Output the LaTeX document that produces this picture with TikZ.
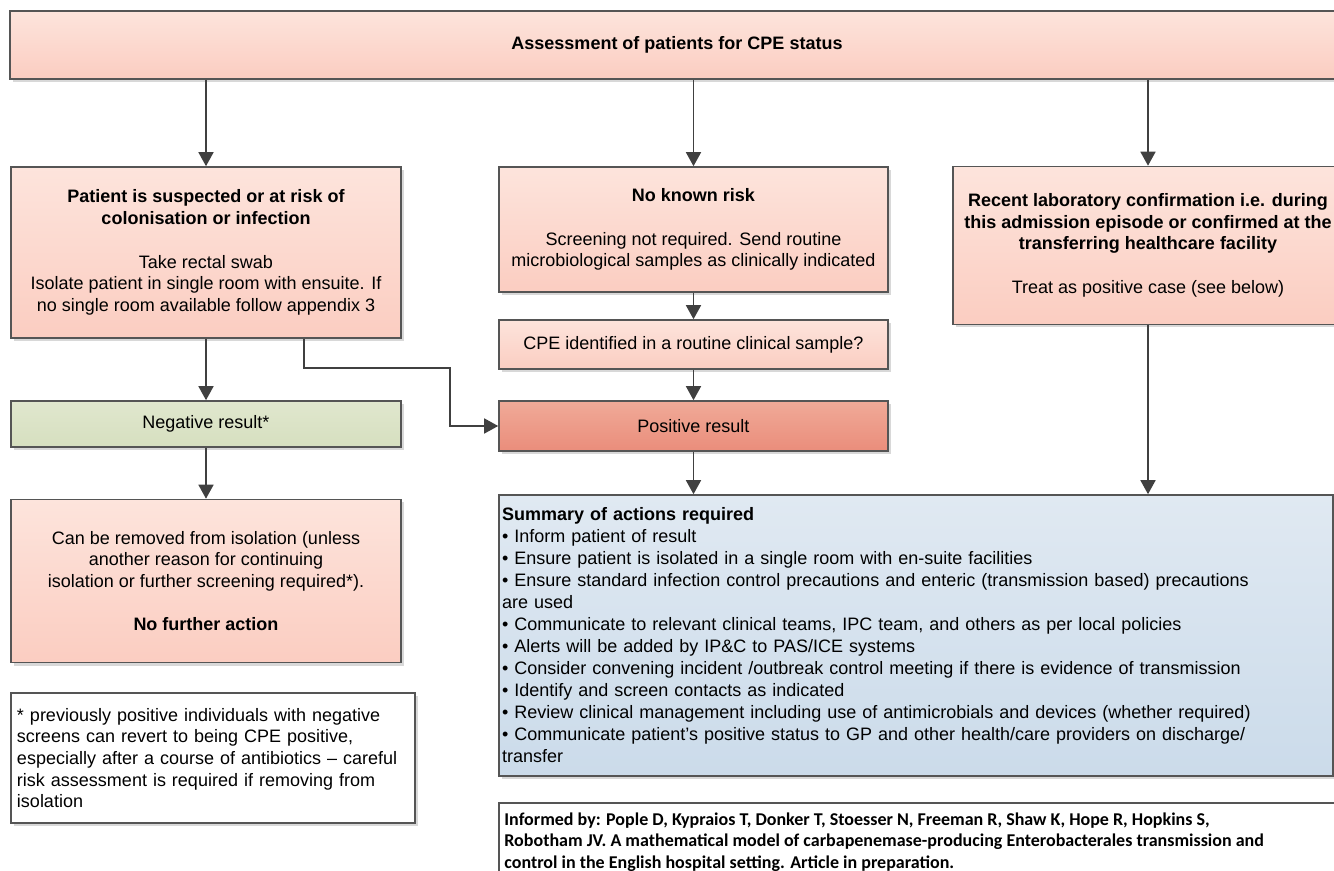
\documentclass[tikz,border=0pt]{standalone}
\usepackage{fontspec}
\setmainfont{Liberation Sans}
\newfontfamily\infofont{Carlito}
\usetikzlibrary{arrows.meta,shadows}
\definecolor{pinktop}{RGB}{253,228,220}
\definecolor{pinkbot}{RGB}{251,205,193}
\definecolor{greentop}{RGB}{224,231,206}
\definecolor{greenbot}{RGB}{214,223,191}
\definecolor{redtop}{RGB}{240,170,152}
\definecolor{redbot}{RGB}{234,141,123}
\definecolor{bluetop}{RGB}{224,233,242}
\definecolor{bluebot}{RGB}{203,219,234}
\definecolor{edgegrey}{RGB}{85,85,85}
\definecolor{flowgrey}{RGB}{64,64,64}

\tikzset{
    box/.style={rectangle, draw=edgegrey, line width=0.8pt, align=center, inner sep=1.5pt,
        font=\fontsize{9}{10.8}\selectfont,
        drop shadow={shadow xshift=1.5pt, shadow yshift=-1.5pt, fill=black!30, opacity=0.5}},
    pinkbox/.style={box, top color=pinktop, bottom color=pinkbot},
    greenbox/.style={box, top color=greentop, bottom color=greenbot},
    redbox/.style={box, top color=redtop, bottom color=redbot},
    bluebox/.style={box, top color=bluetop, bottom color=bluebot},
    notebox/.style={box, fill=white},
    flow/.style={draw=flowgrey, line width=0.8pt, -{Triangle[width=7.5pt,length=7pt]}}
}

\begin{document}
\begin{tikzpicture}[x=0.5pt, y=-0.5pt]
    \useasboundingbox (0,0) rectangle (1334,871);

    % Assessment
    \node[pinkbox, minimum width=667pt, minimum height=34pt] (top) at (677,45)
        {\textbf{Assessment of patients for CPE status}};

    % Three routes
    \node[pinkbox, minimum width=195pt, minimum height=85.5pt] (risk) at (206,252.5)
        {\textbf{Patient is suspected or at risk of}\\
         \textbf{colonisation or infection}\\[11pt]
         Take rectal swab\\
         Isolate patient in single room with ensuite. If\\
         no single room available follow appendix 3};
    \node[pinkbox, minimum width=194.5pt, minimum height=62.5pt] (norisk) at (693.5,229.5)
        {\textbf{No known risk}\\[11pt]
         Screening not required. Send routine\\
         microbiological samples as clinically indicated};
    \node[pinkbox, minimum width=195pt, minimum height=79pt] (known) at (1148,245.5)
        {\textbf{Recent laboratory confirmation i.e. during}\\
         \textbf{this admission episode or confirmed at the}\\
         \textbf{transferring healthcare facility}\\[11pt]
         Treat as positive case (see below)};

    % Results
    \node[pinkbox, minimum width=194.5pt, minimum height=24.5pt] (sample) at (693.5,344.5)
        {CPE identified in a routine clinical sample?};
    \node[greenbox, minimum width=195pt, minimum height=23pt] (neg) at (206,424)
        {Negative result*};
    \node[redbox, minimum width=194.5pt, minimum height=25pt] (pos) at (693.5,426)
        {Positive result};

    % Outcomes
    \node[pinkbox, minimum width=195pt, minimum height=81.5pt] (release) at (206,581)
        {Can be removed from isolation (unless\\
         another reason for continuing\\
         isolation or further screening required*).\\[11pt]
         \textbf{No further action}};
    \node[notebox, minimum width=202pt, minimum height=65pt, text width=196pt, align=left] (note) at (213,758)
        {* previously positive individuals with negative\\
         screens can revert to being CPE positive,\\
         especially after a course of antibiotics – careful\\
         risk assessment is required if removing from\\
         isolation};
    \node[bluebox, minimum width=417pt, minimum height=140.5pt, text width=414pt, align=left,
        font=\fontsize{9}{11}\selectfont] (actions) at (916,635.5)
        {\textbf{Summary of actions required}\\
         • Inform patient of result\\
         • Ensure patient is isolated in a single room with en-suite facilities\\
         • Ensure standard infection control precautions and enteric (transmission based) precautions\\
         are used\\
         • Communicate to relevant clinical teams, IPC team, and others as per local policies\\
         • Alerts will be added by IP\&C to PAS/ICE systems\\
         • Consider convening incident /outbreak control meeting if there is evidence of transmission\\
         • Identify and screen contacts as indicated\\
         • Review clinical management including use of antimicrobials and devices (whether required)\\
         • Communicate patient’s positive status to GP and other health/care providers on discharge/\\
         transfer};

    % Reference
    \draw[edgegrey, line width=0.8pt] (499,803) rectangle (1350,900);
    \node[anchor=north west, inner sep=0pt, align=left, font=\infofont\bfseries\fontsize{9}{10.75}\selectfont] (informed) at (504,812)
        {Informed by: Pople D, Kypraios T, Donker T, Stoesser N, Freeman R, Shaw K, Hope R, Hopkins S,\\
         Robotham JV. A mathematical model of carbapenemase-producing Enterobacterales transmission and\\
         control in the English hospital setting. Article in preparation.};

    % Connectors
    \foreach \n in {risk,norisk,known}
        \draw[flow] (top.south -| \n.north) -- (\n.north);
    \draw[flow] (risk.south) -- (neg.north);
    \draw[flow] (norisk.south) -- (sample.north);
    \draw[flow] (sample.south) -- (pos.north);
    \draw[flow] (neg.south) -- (release.north);
    \draw[flow] (pos.south) -- (pos.south |- actions.north);
    \draw[flow] (known.south) -- (known.south |- actions.north);

    % Swab positive
    \coordinate (elbow) at (304,368);
    \coordinate (bend) at (450,368);
    \draw[flow] (risk.south -| elbow) -- (elbow) -- (bend) |- (pos.west);

\end{tikzpicture}
\end{document}
